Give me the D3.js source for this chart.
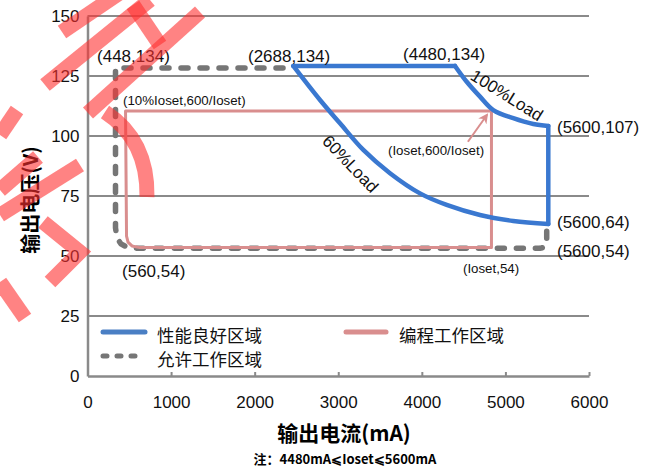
<!DOCTYPE html>
<html>
<head>
<meta charset="utf-8">
<script src="https://cdn.jsdelivr.net/npm/d3@7"></script>
<style>
  body { margin: 0; background: #fff; }
  svg { display: block; font-family: "Liberation Sans", Arial, "Noto Sans CJK SC", sans-serif; }
  .cjk { font-family: "Noto Sans CJK SC", sans-serif; }
</style>
</head>
<body>
<script>
// axis ticks
const xTicks = [0, 1000, 2000, 3000, 4000, 5000, 6000];
const yTicks = [0, 25, 50, 75, 100, 125, 150];

// performance region (blue): 60% load curve and 100% load curve
const load60I = [2462, 2782, 3021, 3300, 3619, 3978, 4297, 4696, 5094, 5513];
const load60V = [129.2, 115, 105.3, 94.2, 84.5, 76.1, 71.3, 67.1, 64.6, 63.3];
const load100I = [4397, 4537, 4696, 4855, 5094, 5334, 5513];
const load100V = [129.2, 122.6, 116.4, 110.8, 107.4, 105, 104.2];

// allowed region (gray dashed)
const allowI = [2339, 335, 335, 353, 401, 485, 604, 5414, 5474, 5494, 5494];
const allowV = [128.3, 128.3, 61.7, 57.5, 55, 53.5, 53.2, 53.2, 53.75, 55.4, 62.5];

// programmed region (pink)
const progI = [4833, 455, 467, 485, 532, 628, 4833, 4833];
const progV = [110.4, 110.4, 58.3, 55.8, 54.2, 53.5, 53.5, 110.4];

// annotations, anchored in data units
const labels = [
  { t: "(448,134)", i: 114, v: 130.8 },
  { t: "(2688,134)", i: 1920, v: 130.8 },
  { t: "(4480,134)", i: 3775, v: 131.7 },
  { t: "(5600,107)", i: 5617, v: 101.3 },
  { t: "(5600,64)", i: 5617, v: 61.7 },
  { t: "(5600,54)", i: 5617, v: 49.6 },
  { t: "(560,54)", i: 413, v: 41.3 }
];
const smallLabels = [
  { t: "(10%Ioset,600/Ioset)", i: 425, v: 112.9 },
  { t: "(Ioset,600/Ioset)", i: 3595, v: 92.1 },
  { t: "(Ioset,54)", i: 4492, v: 42.9 }
];
const loadLabels = [
  { t: "100%Load", i: 5016, v: 116.8, rot: 32 },
  { t: "60%Load", i: 3141, v: 88.3, rot: 46 }
];
const arrowI = [4551, 4779];
const arrowV = [97.6, 108.75];

const legendItems = ["性能良好区域", "编程工作区域", "允许工作区域"];

const width = 655, height = 468;
const blue = "#3a78d0", pink = "#d98e8e", gray = "#767676", grid = "#8a8a8a";

const svg = d3.select("body").append("svg")
    .attr("width", width)
    .attr("height", height);

svg.append("rect").attr("width", width).attr("height", height).attr("fill", "#fff");

const x = d3.scaleLinear().domain([0, 6000]).range([87.5, 589]);
const y = d3.scaleLinear().domain([0, 150]).range([376, 16]);

// gridlines
svg.append("g")
  .selectAll("line")
  .data(yTicks.filter(d => d > 0))
  .join("line")
    .attr("x1", x(0)).attr("x2", x(6000))
    .attr("y1", d => y(d)).attr("y2", d => y(d))
    .attr("stroke", grid).attr("stroke-width", 2);

// y axis
const yAxis = svg.append("g")
    .attr("transform", `translate(${x(0)},0)`)
    .call(d3.axisLeft(y).tickValues(yTicks).tickSize(0).tickPadding(8));
yAxis.select(".domain").attr("stroke", grid).attr("stroke-width", 2.5);
yAxis.selectAll("text").attr("font-size", 17).attr("fill", "#111")
    .attr("font-family", "Liberation Sans, Arial, sans-serif");

// x axis
const xAxis = svg.append("g")
    .attr("transform", `translate(0,${y(0)})`)
    .call(d3.axisBottom(x).tickValues(xTicks).tickFormat(d3.format("d"))
      .tickSizeInner(-4).tickSizeOuter(0).tickPadding(20));
xAxis.select(".domain").attr("stroke", grid).attr("stroke-width", 2.5);
xAxis.selectAll(".tick line").attr("stroke", grid).attr("stroke-width", 2);
xAxis.selectAll("text").attr("font-size", 17).attr("fill", "#111")
    .attr("font-family", "Liberation Sans, Arial, sans-serif");

const zip = (a, b) => a.map((d, k) => [d, b[k]]);
const line = d3.line().x(d => x(d[0])).y(d => y(d[1]));
const smooth = d3.line().x(d => x(d[0])).y(d => y(d[1])).curve(d3.curveCatmullRom);

// allowed region
svg.append("path")
    .attr("d", line(zip(allowI, allowV)))
    .attr("fill", "none").attr("stroke", gray).attr("stroke-width", 5.5)
    .attr("stroke-dasharray", "7,12").attr("stroke-linecap", "round");

// programmed region
svg.append("path")
    .attr("d", line(zip(progI, progV)))
    .attr("fill", "none").attr("stroke", pink).attr("stroke-width", 3)
    .attr("stroke-linejoin", "round");

// performance region
const g60 = zip(load60I, load60V), g100 = zip(load100I, load100V);
const blueStyle = p => p.attr("fill", "none").attr("stroke", blue).attr("stroke-width", 4.5)
    .attr("stroke-linecap", "round").attr("stroke-linejoin", "round");
svg.append("path").attr("d", smooth(g60)).call(blueStyle);
svg.append("path").attr("d", smooth(g100)).call(blueStyle);
svg.append("path").attr("d", line([g60[0], g100[0]])).call(blueStyle);
svg.append("path").attr("d", line([g100[g100.length - 1], g60[g60.length - 1]])).call(blueStyle);

// arrow to (Ioset,600/Ioset)
svg.append("defs").append("marker")
    .attr("id", "arr").attr("viewBox", "0 0 10 10").attr("refX", 8).attr("refY", 5)
    .attr("markerWidth", 5).attr("markerHeight", 5).attr("orient", "auto")
  .append("path").attr("d", "M0,0L10,5L0,10L3,5Z").attr("fill", pink);
svg.append("path")
    .attr("d", line(zip(arrowI, arrowV)))
    .attr("stroke", pink).attr("stroke-width", 2).attr("marker-end", "url(#arr)");

// labels
svg.append("g").selectAll("text").data(labels).join("text")
    .attr("x", d => x(d.i)).attr("y", d => y(d.v))
    .attr("font-size", 17).attr("fill", "#111").text(d => d.t);
svg.append("g").selectAll("text").data(smallLabels).join("text")
    .attr("x", d => x(d.i)).attr("y", d => y(d.v))
    .attr("font-size", 13.3).attr("fill", "#111").text(d => d.t);
svg.append("g").selectAll("text").data(loadLabels).join("text")
    .attr("transform", d => `translate(${x(d.i)},${y(d.v)}) rotate(${d.rot})`)
    .attr("text-anchor", "middle").attr("dominant-baseline", "central")
    .attr("font-size", 17).attr("fill", "#111").text(d => d.t);

// legend
const legend = svg.append("g");
const legendPos = [[103, 332, "#4a7fc4", null], [346, 332, pink, null], [103, 356, gray, "4,10"]];
legendPos.forEach((p, k) => {
  const ln = legend.append("line")
      .attr("x1", p[0]).attr("x2", p[0] + (k === 1 ? 40 : 42))
      .attr("y1", p[1]).attr("y2", p[1])
      .attr("stroke", p[2]).attr("stroke-width", 5).attr("stroke-linecap", "round");
  if (p[3]) ln.attr("stroke-dasharray", p[3]);
  legend.append("text").attr("class", "cjk")
      .attr("x", p[0] + (k === 1 ? 53 : 54)).attr("y", p[1] + 2)
      .attr("dominant-baseline", "central")
      .attr("font-size", 17.5).attr("fill", "#111").text(legendItems[k]);
});

// axis titles
svg.append("text").attr("class", "cjk")
    .attr("transform", "translate(29,200) rotate(-90)")
    .attr("text-anchor", "middle").attr("dominant-baseline", "central")
    .attr("font-size", 20).attr("font-weight", "bold").text("输出电压(V)");
svg.append("text").attr("class", "cjk")
    .attr("x", 344).attr("y", 432)
    .attr("text-anchor", "middle").attr("dominant-baseline", "central")
    .attr("font-size", 21).attr("font-weight", "bold").text("输出电流(mA)");
svg.append("text").attr("class", "cjk")
    .attr("x", 345).attr("y", 458)
    .attr("text-anchor", "middle").attr("dominant-baseline", "central")
    .attr("font-size", 13).attr("font-weight", "bold").text("注：4480mA⩽Ioset⩽5600mA");

// red stamp watermark over the top-left corner
const stamp = [
  "M45,85L150,0", "M62,32L124,-10", "M133,5L160,45", "M88,113L200,12",
  "M105,112Q148,140 147,197", "M0,135L17,110", "M0,190L38,157", "M0,215L80,165",
  "M43,222L80,252L50,282", "M0,282L25,318"
];
svg.append("g").selectAll("path").data(stamp).join("path")
    .attr("d", d => d)
    .attr("fill", "none").attr("stroke", "#ff3030").attr("stroke-opacity", 0.6)
    .attr("stroke-width", 15).attr("stroke-linecap", "butt").attr("stroke-linejoin", "miter");
</script>
</body>
</html>
